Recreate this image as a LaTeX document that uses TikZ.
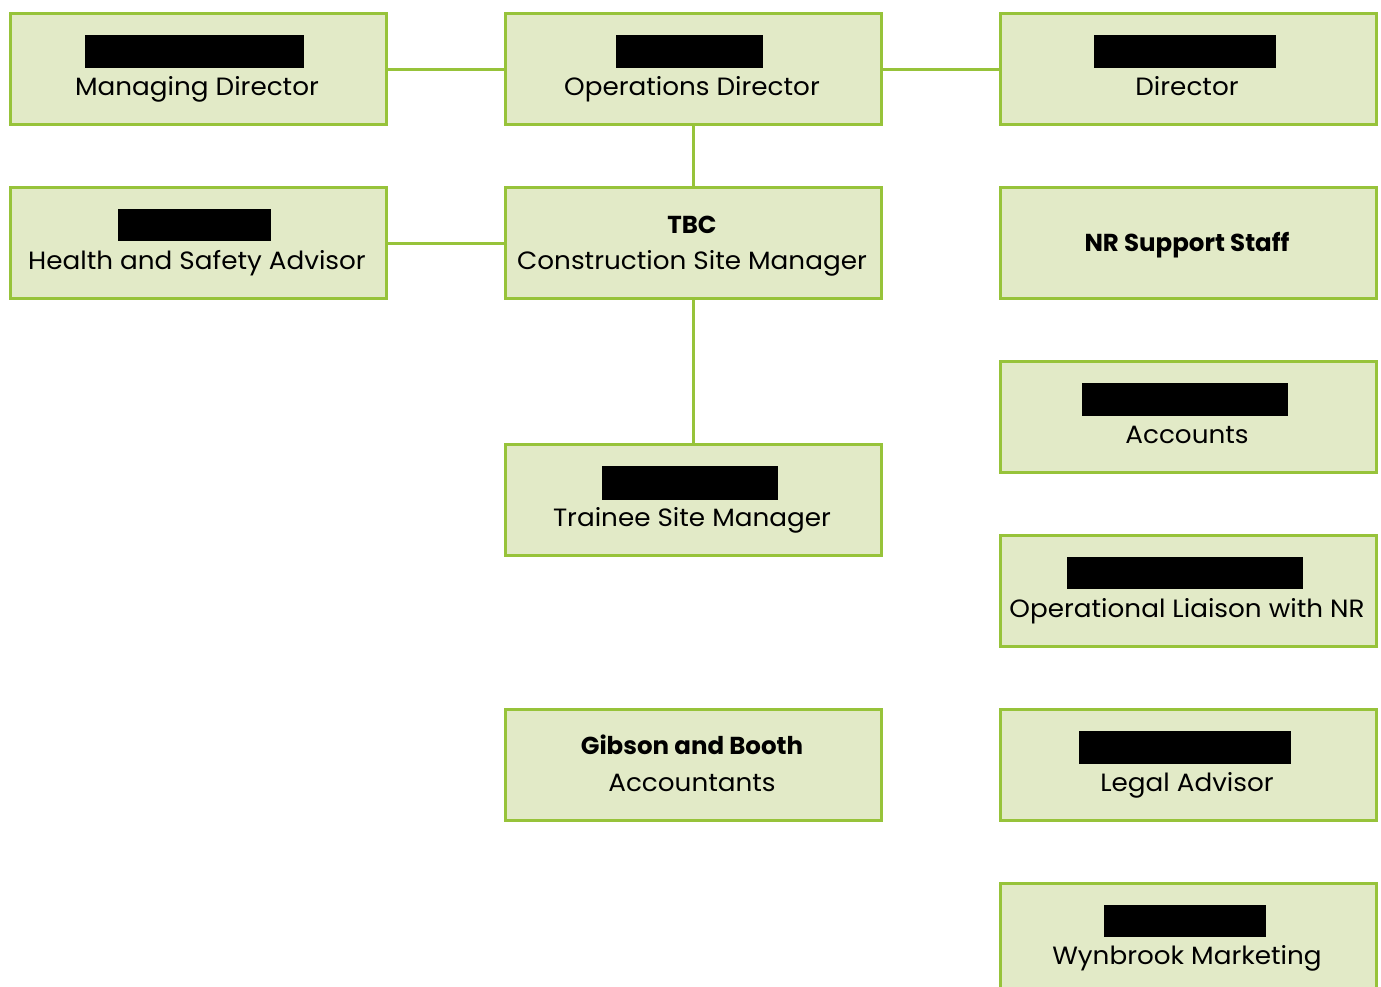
\documentclass[tikz,border=0pt]{standalone}
\usepackage{fontspec}
\setmainfont{Poppins}
\newfontfamily\widefont[FakeStretch=1.05]{Poppins}
\definecolor{boxfill}{HTML}{E2EAC7}
\definecolor{boxline}{HTML}{97C33A}
\begin{document}
\begin{tikzpicture}[x=1pt,y=-1pt,
  orgbox/.style={draw=boxline,fill=boxfill,line width=3pt,minimum width=376pt,minimum height=111pt,inner sep=0pt,anchor=north west},
  redact/.style={fill=black,inner sep=0pt,anchor=north west},
  lbl/.style={font=\widefont\fontsize{25}{28}\selectfont,inner sep=0pt,anchor=base},
  blbl/.style={font=\fontsize{24.5}{28}\selectfont\bfseries,inner sep=0pt,anchor=base},
  conn/.style={draw=boxline,line width=3pt}]
\useasboundingbox (0,0) rectangle (1381,986);
\clip (0,0) rectangle (1381,986);
% boxes
\node[orgbox] (md) at (9,12) {};
\node[orgbox] (od) at (504,12) {};
\node[orgbox] (dir) at (999,12) {};
\node[orgbox] (hs) at (9,186) {};
\node[orgbox] (csm) at (504,186) {};
\node[orgbox] (nr) at (999,186) {};
\node[orgbox] (acc) at (999,360) {};
\node[orgbox] (tsm) at (504,443) {};
\node[orgbox] (ol) at (999,534) {};
\node[orgbox] (gb) at (504,708) {};
\node[orgbox] (legal) at (999,708) {};
\node[orgbox] (wyn) at (999,882) {};
% redactions
\node[redact,minimum width=219pt,minimum height=33pt] (rmd) at (85,35) {};
\node[redact,minimum width=147pt,minimum height=33pt] (rod) at (616,35) {};
\node[redact,minimum width=182pt,minimum height=33pt] (rdir) at (1094,35) {};
\node[redact,minimum width=153pt,minimum height=32pt] (rhs) at (118,209) {};
\node[redact,minimum width=176pt,minimum height=34pt] (rtsm) at (602,466) {};
\node[redact,minimum width=206pt,minimum height=33pt] (racc) at (1082,383) {};
\node[redact,minimum width=236pt,minimum height=32pt] (rol) at (1067,557) {};
\node[redact,minimum width=212pt,minimum height=33pt] (rlegal) at (1079,731) {};
\node[redact,minimum width=162pt,minimum height=32pt] (rwyn) at (1104,905) {};
% labels
\node[lbl] (tmd) at (197,95) {Managing Director};
\node[lbl] (tod) at (692,95) {Operations Director};
\node[lbl] (tdir) at (1187,95) {Director};
\node[lbl] (ths) at (197,269) {Health and Safety Advisor};
\node[blbl] (ttbc) at (692,233) {TBC};
\node[lbl] (tcsm) at (692,269) {Construction Site Manager};
\node[blbl] (tnr) at (1187,251) {NR Support Staff};
\node[lbl] (tacc) at (1187,443) {Accounts};
\node[lbl] (ttsm) at (692,526) {Trainee Site Manager};
\node[lbl] (tol) at (1187,617) {Operational Liaison with NR};
\node[blbl] (tgb) at (692,754) {Gibson and Booth};
\node[lbl] (tgba) at (692,791) {Accountants};
\node[lbl] (tlegal) at (1187,791) {Legal Advisor};
\node[lbl] (twyn) at (1187,964) {Wynbrook Marketing};
% connectors
\draw[conn] (md.east) -- (od.west);
\draw[conn] (od.east) -- (dir.west);
\draw[conn] (od.south) -- (csm.north);
\draw[conn] (hs.east) -- (csm.west);
\draw[conn] (csm.south) -- (tsm.north);
\end{tikzpicture}
\end{document}
